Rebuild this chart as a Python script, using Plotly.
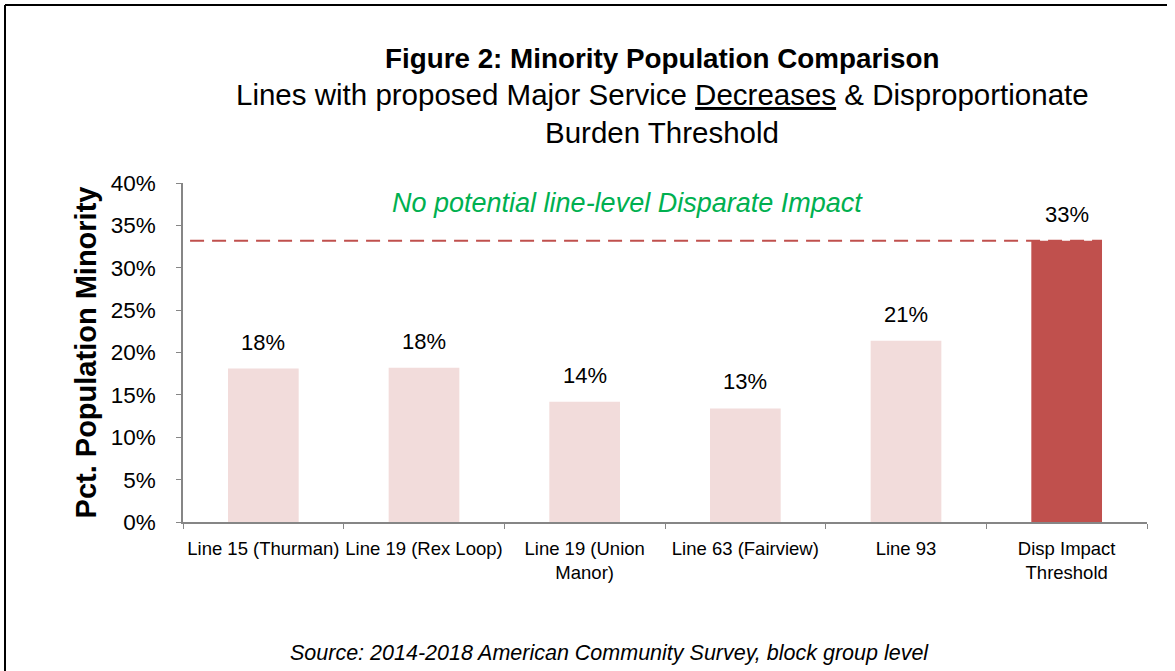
import plotly.graph_objects as go

# ---- data ----
categories = ["Line 15 (Thurman)", "Line 19 (Rex Loop)", "Line 19 (Union<br>Manor)",
              "Line 63 (Fairview)", "Line 93", "Disp Impact<br>Threshold"]
pct_minority = [0.181, 0.182, 0.142, 0.134, 0.214, 0.332]
threshold = 0.332
y_ticks = [0, 0.05, 0.10, 0.15, 0.20, 0.25, 0.30, 0.35, 0.40]

light = "#F2DCDB"
dark = "#C0504D"
colors = [light] * (len(categories) - 1) + [dark]

W, H = 1175, 671
L, R, T, B = 183, 28, 183, 149
PW, PH = W - L - R, H - T - B
FONT = "'Liberation Sans', Arial, sans-serif"


def px(xp):
    return (xp - L) / PW


def py(yp):
    return (H - B - yp) / PH


bar_w = 0.44
fig = go.Figure()
fig.add_trace(go.Bar(x=categories, y=pct_minority, marker=dict(color=colors, line=dict(width=0)),
                     width=bar_w, hoverinfo="x+y"))

annotations = []
for c, v in zip(categories, pct_minority):
    annotations.append(dict(x=c, y=v, xref="x", yref="y", text=f"{v*100:.0f}%", showarrow=False,
                            yanchor="bottom", yshift=12, font=dict(family=FONT, size=22, color="#000")))

annotations += [
    dict(x=px(662), y=py(58), xref="paper", yref="paper", text="<b>Figure 2: Minority Population Comparison</b>",
         showarrow=False, xanchor="center", yanchor="middle", font=dict(family=FONT, size=27.8, color="#000")),
    dict(x=px(662), y=py(95), xref="paper", yref="paper",
         text="Lines with proposed Major Service <u>Decreases</u> &amp; Disproportionate",
         showarrow=False, xanchor="center", yanchor="middle", font=dict(family=FONT, size=29.5, color="#000")),
    dict(x=px(662), y=py(133), xref="paper", yref="paper", text="Burden Threshold",
         showarrow=False, xanchor="center", yanchor="middle", font=dict(family=FONT, size=29.5, color="#000")),
    dict(x=px(627.5), y=py(203), xref="paper", yref="paper", text="<i>No potential line-level Disparate Impact</i>",
         showarrow=False, xanchor="center", yanchor="middle", font=dict(family=FONT, size=27, color="#00B050")),
    dict(x=px(609), y=py(653), xref="paper", yref="paper",
         text="<i>Source: 2014-2018 American Community Survey, block group level</i>",
         showarrow=False, xanchor="center", yanchor="middle", font=dict(family=FONT, size=21.5, color="#000")),
]

n = len(categories)
shapes = [
    dict(type="line", xref="x", yref="y", x0=-0.456, x1=(n - 1) + bar_w / 2, y0=threshold, y1=threshold,
         line=dict(color=dark, width=2, dash="14px,8px")),
    # outer frame (top & left edges visible)
    dict(type="line", xref="paper", yref="paper", x0=px(5), x1=px(W - 8), y0=py(5), y1=py(5),
         line=dict(color="#000", width=2)),
    dict(type="line", xref="paper", yref="paper", x0=px(5), x1=px(5), y0=py(5), y1=py(H),
         line=dict(color="#000", width=2)),
]

fig.update_layout(
    width=W, height=H,
    margin=dict(l=L, r=R, t=T, b=B),
    paper_bgcolor="white", plot_bgcolor="white",
    showlegend=False,
    annotations=annotations, shapes=shapes,
    font=dict(family=FONT, color="#000"),
    xaxis=dict(type="category", showline=True, linecolor="#868686", linewidth=1.5,
               ticks="outside", tickson="boundaries", ticklen=5, tickcolor="#868686",
               ticklabelstandoff=9, tickangle=0,
               tickfont=dict(family=FONT, size=18.5, color="#000"), showgrid=False, zeroline=False),
    yaxis=dict(range=[0, 0.4], tickvals=y_ticks, tickformat=".0%", showline=True, linecolor="#868686",
               linewidth=1.5, ticks="outside", ticklen=5, tickcolor="#868686", showgrid=False,
               ticklabelstandoff=16,
               zeroline=False, tickfont=dict(family=FONT, size=22.5, color="#000"),
               title=dict(text="<b>Pct. Population Minority</b>", standoff=6,
                          font=dict(family=FONT, size=29, color="#000"))),
)

fig.write_html("out.html", config={"displayModeBar": False},
               post_script="document.body.style.margin='0px';document.body.style.overflow='hidden';"
                           "document.documentElement.style.overflow='hidden';")
